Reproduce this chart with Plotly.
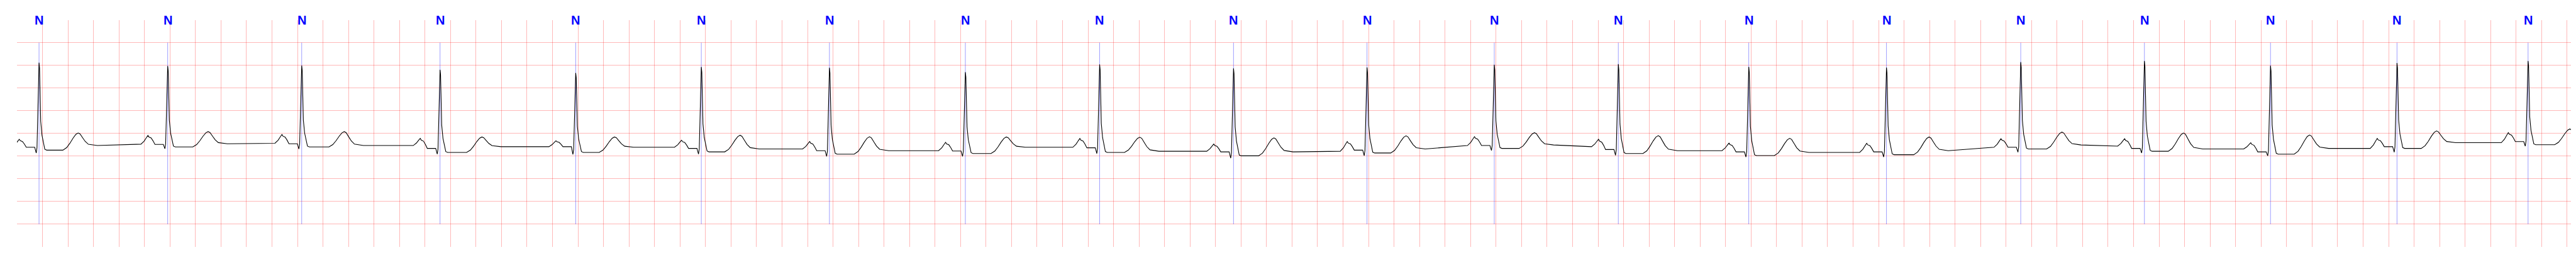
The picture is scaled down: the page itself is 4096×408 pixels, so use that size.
import plotly.graph_objects as go

# ---- values (time in s, amplitude in mV) ----
r_time = [0.173, 1.182, 2.233, 3.318, 4.382, 5.367, 6.372, 7.438, 8.491, 9.541,
          10.588, 11.586, 12.559, 13.582, 14.662, 15.715, 16.685, 17.674, 18.666, 19.694]
beat_label = ["N"] * 20
r_amp = [1.559, 1.486, 1.494, 1.403, 1.332, 1.463, 1.446, 1.350, 1.521, 1.433,
         1.453, 1.514, 1.526, 1.466, 1.451, 1.572, 1.597, 1.491, 1.552, 1.597]
q_amp = [-0.431, -0.338, -0.343, -0.456, -0.463, -0.456, -0.506, -0.506, -0.443, -0.544,
         -0.489, -0.375, -0.481, -0.519, -0.519, -0.413, -0.431, -0.494, -0.413, -0.280]
p_amp = [-0.128, -0.045, -0.023, -0.108, -0.161, -0.149, -0.179, -0.196, -0.111, -0.234,
         -0.179, -0.071, -0.128, -0.212, -0.217, -0.116, -0.116, -0.204, -0.111, 0.018]
pr_level = [-0.305, -0.242, -0.229, -0.330, -0.292, -0.330, -0.380, -0.388, -0.317, -0.406,
            -0.368, -0.267, -0.355, -0.406, -0.406, -0.305, -0.330, -0.406, -0.292, -0.179]
st_level = [-0.368, -0.297, -0.297, -0.418, -0.418, -0.406, -0.456, -0.443, -0.418, -0.494,
            -0.431, -0.330, -0.443, -0.489, -0.469, -0.343, -0.393, -0.456, -0.330, -0.249]
t_amp = [0.010, 0.040, 0.040, -0.078, -0.078, -0.040, -0.073, -0.078, -0.083, -0.098,
         -0.053, 0.015, -0.048, -0.108, -0.078, 0.030, 0.010, -0.035, 0.055, 0.098]
t_delay = [0.307, 0.317, 0.334, 0.328, 0.304, 0.304, 0.314, 0.321, 0.315, 0.317,
           0.306, 0.315, 0.313, 0.321, 0.334, 0.323, 0.307, 0.306, 0.310, 0.328]
tp_pre = [-0.300, -0.237, -0.217, -0.267, -0.292, -0.305, -0.343, -0.380, -0.305, -0.393,
          -0.393, -0.267, -0.292, -0.380, -0.418, -0.305, -0.280, -0.343, -0.330, -0.204]
tp_post = [-0.267, -0.229, -0.267, -0.292, -0.305, -0.343, -0.380, -0.305, -0.393, -0.406,
           -0.343, -0.254, -0.380, -0.418, -0.380, -0.254, -0.343, -0.330, -0.204, -0.250]

# beat morphology read from a zoomed beat: time offsets (s) and fractions
p_at = -0.155
p_off = [-0.055, -0.030, -0.012, 0.0, 0.008, 0.025, 0.040, 0.055]
p_frac = [0.0, 0.35, 0.75, 1.0, 0.82, 0.72, 0.40, 0.0]
qrs_off = [-0.034, -0.022, -0.016, 0.0, 0.004, 0.013, 0.023, 0.045, 0.060]
t_off = [-0.120, -0.090, -0.065, -0.040, -0.018, 0.0, 0.015, 0.035, 0.055, 0.080, 0.150]
t_frac = [0.0, 0.15, 0.40, 0.70, 0.92, 1.0, 0.92, 0.62, 0.33, 0.10, 0.0]

x_end = 20.06
y_top = 2.495

xs, ys = [], []
for i, tr in enumerate(r_time):
    R, Q, P, PR, ST, T = r_amp[i], q_amp[i], p_amp[i], pr_level[i], st_level[i], t_amp[i]
    tp = tr + p_at
    for o, f in zip(p_off, p_frac):
        base = tp_pre[i] if o < 0 else PR
        xs.append(tp + o)
        ys.append(base + f * (P - base))
    qrs_val = [PR, Q, Q + 0.06 * (R - Q), R, R - 0.06 * (R - ST),
               ST + 0.33 * (R - ST), ST + 0.17 * (R - ST), ST + 0.01 * (R - ST), ST]
    for o, v in zip(qrs_off, qrs_val):
        xs.append(tr + o)
        ys.append(v)
    tt = tr + t_delay[i]
    for o, f in zip(t_off, t_frac):
        base = ST if o < 0 else tp_post[i]
        xs.append(tt + o)
        ys.append(base + f * (T - base))

fig = go.Figure()

# annotation marker lines
bx, by = [], []
for tr in r_time:
    bx += [tr, tr, None]
    by += [-2.0, 2.0, None]
fig.add_trace(go.Scatter(x=bx, y=by, mode="lines",
                         line=dict(color="rgba(0,0,255,0.55)", width=0.7),
                         hoverinfo="skip", showlegend=False))

fig.add_trace(go.Scatter(x=xs, y=ys, mode="lines",
                         line=dict(color="black", width=1.1),
                         showlegend=False))

for tr, lab in zip(r_time, beat_label):
    fig.add_annotation(x=tr, y=y_top - 0.001, xref="x", yref="y", text="<b>%s</b>" % lab,
                       showarrow=False, yanchor="top", yshift=13,
                       font=dict(family="Liberation Sans, Arial, sans-serif",
                                 size=20, color="rgb(0,0,255)"))

fig.update_xaxes(range=[0, x_end], dtick=0.2, tick0=0, showgrid=True,
                 gridcolor="rgba(255,0,0,0.28)", gridwidth=1,
                 zeroline=False, showticklabels=False, ticks="", showline=False)
fig.update_yaxes(range=[-2.5, y_top], dtick=0.5, tick0=0, showgrid=True,
                 gridcolor="rgba(255,0,0,0.28)", gridwidth=1,
                 zeroline=False, showticklabels=False, ticks="", showline=False)
fig.update_layout(width=4096, height=408,
                  margin=dict(l=19, r=10, t=24, b=24),
                  paper_bgcolor="white", plot_bgcolor="white")

fig.write_html("out.html")
